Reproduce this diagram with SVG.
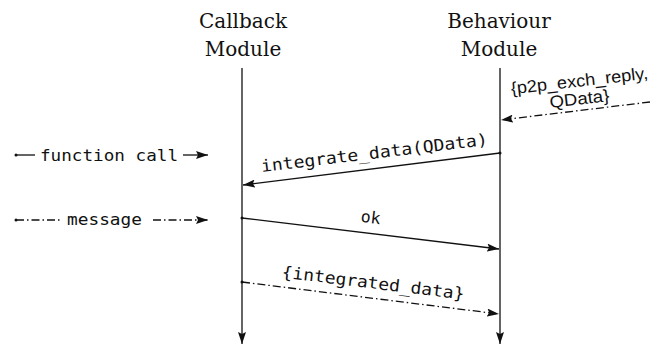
<svg xmlns="http://www.w3.org/2000/svg" width="650" height="345" viewBox="0 0 650 345">
  <style>
    .head { font-family: "DejaVu Serif", "Liberation Serif", serif; font-size: 20px; fill: #111; text-anchor: middle; }
    .mono { font-family: "DejaVu Sans Mono", "Liberation Mono", monospace; font-size: 16.5px; fill: #111; }
    .sans { font-family: "Liberation Sans", Arial, sans-serif; font-size: 17px; fill: #111; text-anchor: middle; }
    .ln { stroke: #111; stroke-width: 1.3; fill: none; }
    .call { stroke: #111; stroke-width: 1.3; fill: none; }
    .msg { stroke: #111; stroke-width: 1.3; fill: none; stroke-dasharray: 8 3 1.5 3; }
  </style>
  <defs>
    <marker id="tip" viewBox="0 0 12 8" refX="12" refY="4" markerWidth="12" markerHeight="8" markerUnits="userSpaceOnUse" orient="auto">
      <path d="M0,0 L12,4 L0,8 L2,4 Z" fill="#111"/>
    </marker>
  </defs>

  <!-- lifeline: callback module -->
  <g id="callback">
    <text class="head" x="243" y="28">Callback</text>
    <text class="head" x="243" y="56">Module</text>
    <line class="ln" x1="242" y1="68" x2="242" y2="344" marker-end="url(#tip)"/>
  </g>

  <!-- lifeline: behaviour module -->
  <g id="behaviour">
    <text class="head" x="499" y="28">Behaviour</text>
    <text class="head" x="499" y="56">Module</text>
    <line class="ln" x1="500" y1="68" x2="500" y2="344" marker-end="url(#tip)"/>
  </g>

  <!-- legend -->
  <g id="legend">
    <circle cx="16" cy="155" r="1.5" fill="#111"/>
    <line class="call" x1="16" y1="155" x2="35" y2="155"/>
    <text class="mono" x="40" y="161" textLength="138" lengthAdjust="spacingAndGlyphs">function call</text>
    <line class="call" x1="183" y1="155" x2="208" y2="155" marker-end="url(#tip)"/>

    <circle cx="16" cy="220" r="1.5" fill="#111"/>
    <line class="msg" x1="16" y1="220" x2="61" y2="220"/>
    <text class="mono" x="67" y="225" textLength="75" lengthAdjust="spacingAndGlyphs">message</text>
    <line class="msg" x1="153" y1="220" x2="208" y2="220" marker-end="url(#tip)"/>
  </g>

  <!-- messages between the modules -->
  <g id="connectors">
    <line class="msg" x1="650" y1="102" x2="501" y2="120" marker-end="url(#tip)"/>
    <text class="sans" transform="translate(580,86.5) rotate(-6.5)" textLength="138" lengthAdjust="spacingAndGlyphs">{p2p_exch_reply,</text>
    <text class="sans" transform="translate(580,104.5) rotate(-6.5)" textLength="60" lengthAdjust="spacingAndGlyphs">QData}</text>

    <circle cx="500" cy="153" r="1.5" fill="#111"/>
    <line class="call" x1="500" y1="153" x2="243" y2="185" marker-end="url(#tip)"/>
    <text class="mono" text-anchor="middle" transform="translate(375,158.5) rotate(-6.85)" textLength="228" lengthAdjust="spacingAndGlyphs">integrate_data(QData)</text>

    <circle cx="242" cy="218" r="1.5" fill="#111"/>
    <line class="call" x1="242" y1="218" x2="499" y2="249" marker-end="url(#tip)"/>
    <text class="mono" text-anchor="middle" transform="translate(370,223) rotate(6.9)">ok</text>

    <circle cx="242" cy="282" r="1.5" fill="#111"/>
    <line class="msg" x1="242" y1="282" x2="499" y2="314" marker-end="url(#tip)"/>
    <text class="mono" text-anchor="middle" transform="translate(372.5,288.5) rotate(6.9)" textLength="184" lengthAdjust="spacingAndGlyphs">{integrated_data}</text>
  </g>
</svg>
